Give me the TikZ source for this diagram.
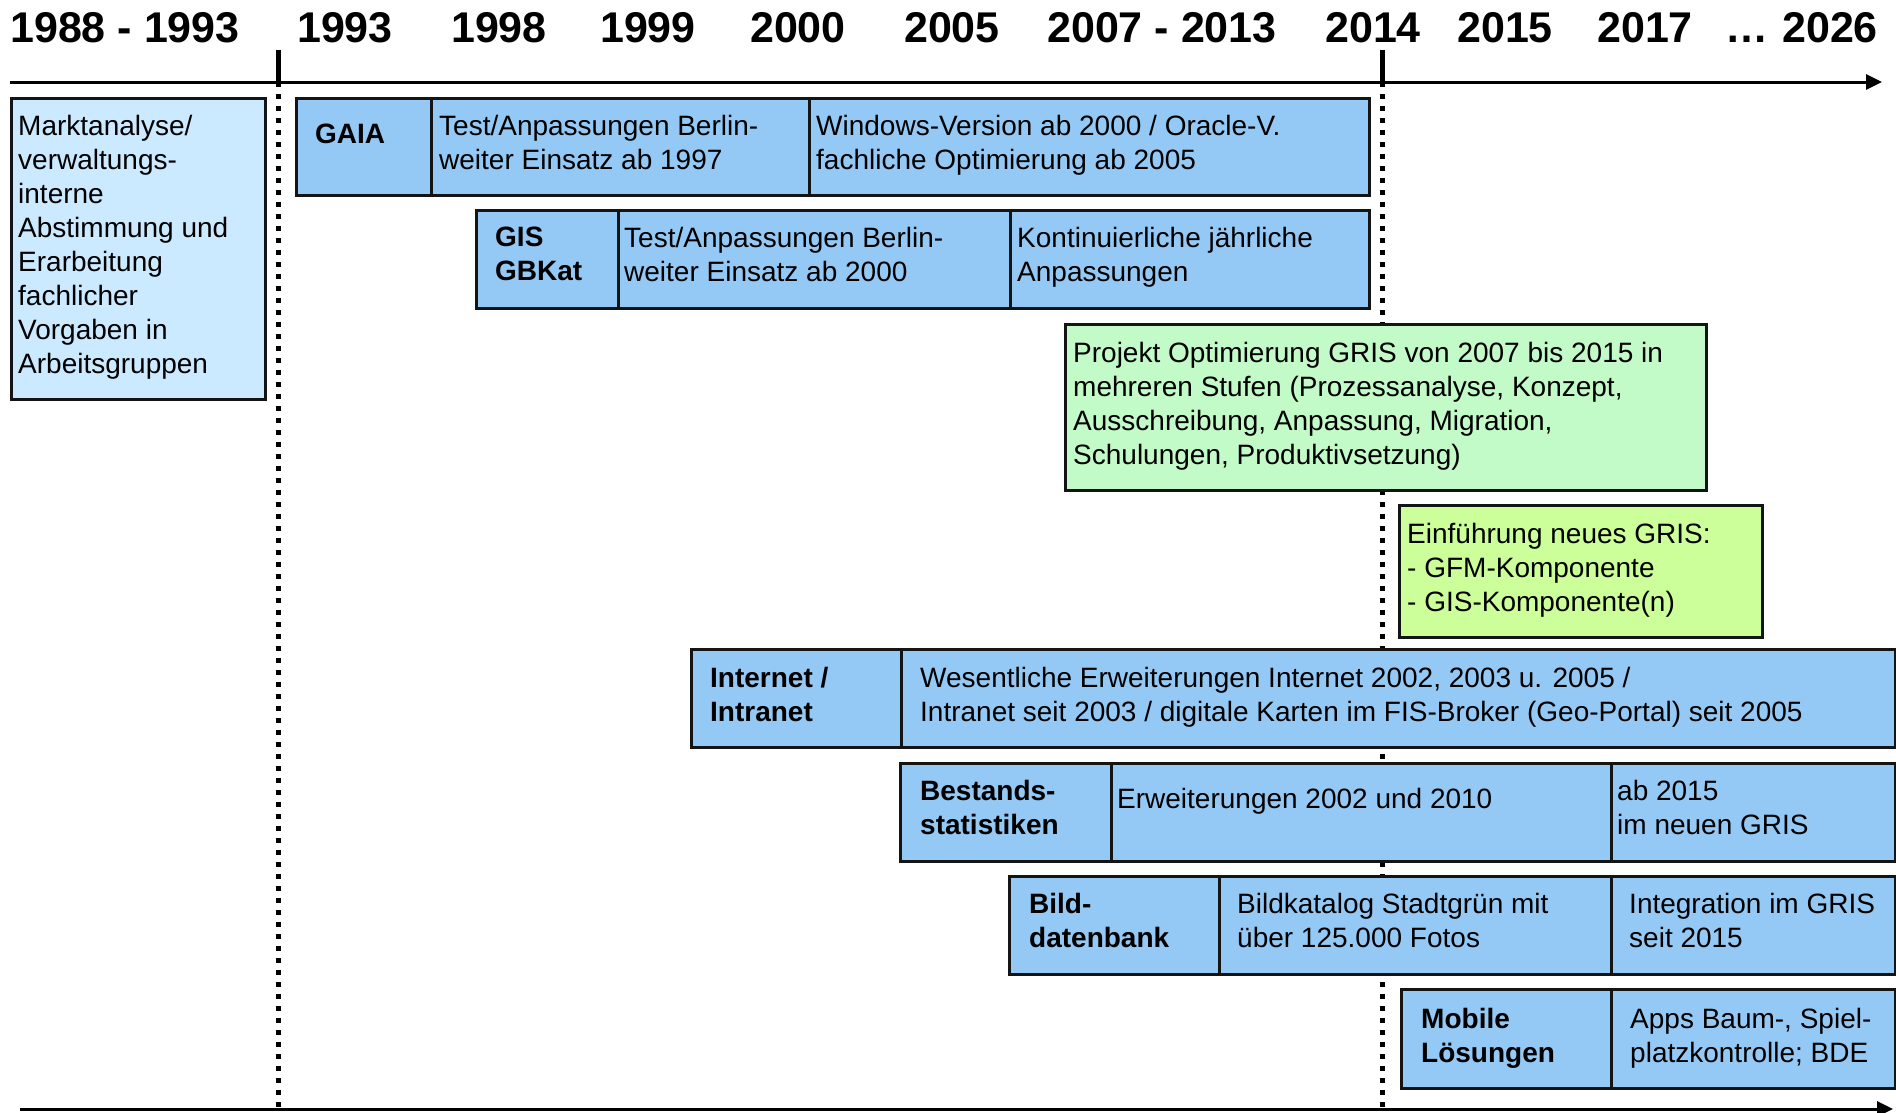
\documentclass[tikz,border=0pt]{standalone}
\usepackage{fontspec}
\setmainfont{Liberation Sans}
\usetikzlibrary{arrows.meta}
\definecolor{cellblue}{RGB}{149,201,245}
\definecolor{paleblue}{RGB}{204,234,255}
\definecolor{mint}{RGB}{194,250,200}
\definecolor{lime}{RGB}{204,255,153}
\definecolor{edge}{RGB}{20,20,20}
\tikzset{
  cellbox/.style={draw=edge, line width=2.8pt, fill=cellblue, inner sep=0pt},
  palebox/.style={cellbox, fill=paleblue},
  mintbox/.style={cellbox, fill=mint},
  limebox/.style={cellbox, fill=lime},
  txt/.style={anchor=north west, inner sep=0pt, align=left,
    font=\fontsize{28}{34}\selectfont, execute at begin node=\rule{0pt}{28pt}},
  btxt/.style={txt, font=\fontsize{28}{34}\selectfont\bfseries},
  yearlbl/.style={anchor=base, inner sep=0pt, font=\fontsize{43}{43}\selectfont\bfseries},
  axisline/.style={line width=3pt, -{Triangle[length=16pt,width=15pt]}},
  tickline/.style={line width=5pt},
  dotline/.style={line width=5pt, dash pattern=on 5pt off 7pt},
}
\newcommand\mycell[6]{\node[#6, anchor=north west, minimum width={(#4-#2)*1pt}, minimum height={(#5-#3)*1pt}] (#1) at (#2,#3) {};}
\begin{document}
\begin{tikzpicture}[x=1pt,y=-1pt]
\useasboundingbox (0,0) rectangle (1896,1112);
% year labels
\node[yearlbl] (y1) at (125,42) {1988 - 1993};
\node[yearlbl] (y2) at (345,42) {1993};
\node[yearlbl] (y3) at (499,42) {1998};
\node[yearlbl] (y4) at (648,42) {1999};
\node[yearlbl] (y5) at (798,42) {2000};
\node[yearlbl] (y6) at (952,42) {2005};
\node[yearlbl] (y7) at (1162,42) {2007 - 2013};
\node[yearlbl] (y8) at (1373,42) {2014};
\node[yearlbl] (y9) at (1505,42) {2015};
\node[yearlbl] (y10) at (1645,42) {2017};
\node[yearlbl] (y11) at (1747,42) {…};
\node[yearlbl] (y12) at (1830,42) {2026};
% axes
\coordinate (ta0) at (10,82);
\coordinate (ta1) at (1882,82);
\coordinate (ba0) at (20,1109);
\coordinate (ba1) at (1893,1109);
\draw[axisline] (ta0) -- (ta1);
\draw[axisline] (ba0) -- (ba1);
% separators
\coordinate (s1t) at (278,50);
\coordinate (s1m) at (278,82);
\coordinate (s1b) at (278,1109);
\coordinate (s2t) at (1382,50);
\coordinate (s2m) at (1382,82);
\coordinate (s2b) at (1382,1109);
\draw[tickline] (s1t) -- (s1m);
\draw[tickline] (s2t) -- (s2m);
\draw[dotline] (s1m) -- (s1b);
\draw[dotline] (s2m) -- (s2b);
% cells
\mycell{markt}{10}{97}{264}{398}{palebox}
\mycell{gaiaA}{295}{97}{430}{194}{cellbox}
\mycell{gaiaB}{430}{97}{808}{194}{cellbox}
\mycell{gaiaC}{808}{97}{1368}{194}{cellbox}
\mycell{gisA}{475}{209}{617}{307}{cellbox}
\mycell{gisB}{617}{209}{1009}{307}{cellbox}
\mycell{gisC}{1009}{209}{1368}{307}{cellbox}
\mycell{proj}{1064}{323}{1705}{489}{mintbox}
\mycell{einf}{1398}{504}{1761}{636}{limebox}
\mycell{inetA}{690}{648}{900}{746}{cellbox}
\mycell{inetB}{900}{648}{1894}{746}{cellbox}
\mycell{bestA}{899}{762}{1110}{860}{cellbox}
\mycell{bestB}{1110}{762}{1610}{860}{cellbox}
\mycell{bestC}{1610}{762}{1894}{860}{cellbox}
\mycell{bildA}{1008}{875}{1218}{973}{cellbox}
\mycell{bildB}{1218}{875}{1610}{973}{cellbox}
\mycell{bildC}{1610}{875}{1894}{973}{cellbox}
\mycell{mobA}{1400}{988}{1610}{1087}{cellbox}
\mycell{mobB}{1610}{988}{1894}{1087}{cellbox}
% texts
\node[txt] (tmarkt) at (18,115) {Marktanalyse/\\verwaltungs-\\interne\\Abstimmung und\\Erarbeitung\\fachlicher\\Vorgaben in\\Arbeitsgruppen};
\node[btxt] (tgaiaA) at (315,115) {GAIA};
\node[txt] (tgaiaB) at (439,115) {Test/Anpassungen Berlin-\\weiter Einsatz ab 1997};
\node[txt] (tgaiaC) at (816,115) {Windows-Version ab 2000 / Oracle-V.\\fachliche Optimierung ab 2005};
\node[btxt] (tgisA) at (495,227) {GIS\\GBKat};
\node[txt] (tgisB) at (624,227) {Test/Anpassungen Berlin-\\weiter Einsatz ab 2000};
\node[txt] (tgisC) at (1017,227) {Kontinuierliche jährliche\\Anpassungen};
\node[txt] (tproj) at (1073,342) {Projekt Optimierung GRIS von 2007 bis 2015 in\\mehreren Stufen (Prozessanalyse, Konzept,\\Ausschreibung, Anpassung, Migration,\\Schulungen, Produktivsetzung)};
\node[txt] (teinf) at (1407,523) {Einführung neues GRIS:\\- GFM-Komponente\\- GIS-Komponente(n)};
\node[btxt] (tinetA) at (710,667) {Internet /\\Intranet};
\node[txt] (tinetB) at (920,667) {Wesentliche Erweiterungen Internet 2002, 2003 u. 2005 /\\Intranet seit 2003 / digitale Karten im FIS-Broker (Geo-Portal) seit 2005};
\node[btxt] (tbestA) at (920,780) {Bestands-\\statistiken};
\node[txt] (tbestB) at (1117,780) {Erweiterungen 2002 und 2010};
\node[txt] (tbestC) at (1617,780) {ab 2015\\im neuen GRIS};
\node[btxt] (tbildA) at (1029,893) {Bild-\\datenbank};
\node[txt] (tbildB) at (1237,893) {Bildkatalog Stadtgrün mit\\über 125.000 Fotos};
\node[txt] (tbildC) at (1629,893) {Integration im GRIS\\seit 2015};
\node[btxt] (tmobA) at (1421,1008) {Mobile\\Lösungen};
\node[txt] (tmobB) at (1630,1008) {Apps Baum-, Spiel-\\platzkontrolle; BDE};
\end{tikzpicture}
\end{document}
